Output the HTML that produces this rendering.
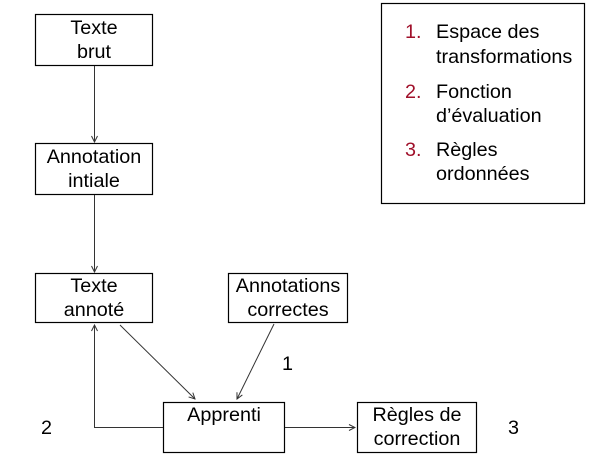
<!DOCTYPE html>
<html><head><meta charset="utf-8"><style>
html,body{margin:0;padding:0;background:#fff;}
svg{display:block;font-family:"Liberation Sans",sans-serif;font-size:19.8px;}
</style></head><body>
<svg width="611" height="468" viewBox="0 0 611 468">
<defs><marker id="a" markerWidth="8" markerHeight="8" refX="7" refY="4" orient="auto" markerUnits="userSpaceOnUse"><path d="M1,1 L7,4 L1,7" fill="none" stroke="#333" stroke-width="1"/></marker></defs>
<g fill="none" stroke="#000" stroke-width="1.2">
<rect x="35.5" y="14.5" width="117" height="51"/>
<rect x="35.5" y="143.5" width="117" height="51"/>
<rect x="35.5" y="273.5" width="117" height="49"/>
<rect x="228.5" y="273.5" width="119" height="49"/>
<rect x="163.5" y="402.5" width="121" height="50"/>
<rect x="357.5" y="402.5" width="119" height="50"/>
<rect x="381.5" y="3.5" width="203" height="200"/>
</g>
<g fill="none" stroke="#333" stroke-width="1" marker-end="url(#a)">
<line x1="94.5" y1="66" x2="94.5" y2="142"/>
<line x1="94.5" y1="195" x2="94.5" y2="272"/>
<line x1="120" y1="325" x2="195" y2="399"/>
<line x1="274" y1="324" x2="237" y2="399"/>
<polyline points="163,427.5 94.5,427.5 94.5,325"/>
<line x1="285" y1="427.5" x2="355" y2="427.5"/>
</g>
<g text-anchor="middle" fill="#000">
<text x="94" y="34">Texte</text><text x="94" y="58">brut</text>
<text x="94" y="163">Annotation</text><text x="94" y="187">intiale</text>
<text x="94" y="292">Texte</text><text x="94" y="316">annoté</text>
<text x="288" y="292">Annotations</text><text x="288" y="316">correctes</text>
<text x="224" y="421">Apprenti</text>
<text x="417" y="421">Règles de</text><text x="417" y="445">correction</text>
</g>
<text x="282" y="370">1</text>
<text x="41" y="434">2</text>
<text x="508" y="434">3</text>
<g fill="#a0102a"><text x="405" y="38">1.</text><text x="405" y="98">2.</text><text x="405" y="156">3.</text></g>
<g fill="#000">
<text x="436" y="38">Espace des</text><text x="436" y="63">transformations</text>
<text x="436" y="98">Fonction</text><text x="436" y="122">d’évaluation</text>
<text x="436" y="156">Règles</text><text x="436" y="180">ordonnées</text>
</g>
</svg>
</body></html>
